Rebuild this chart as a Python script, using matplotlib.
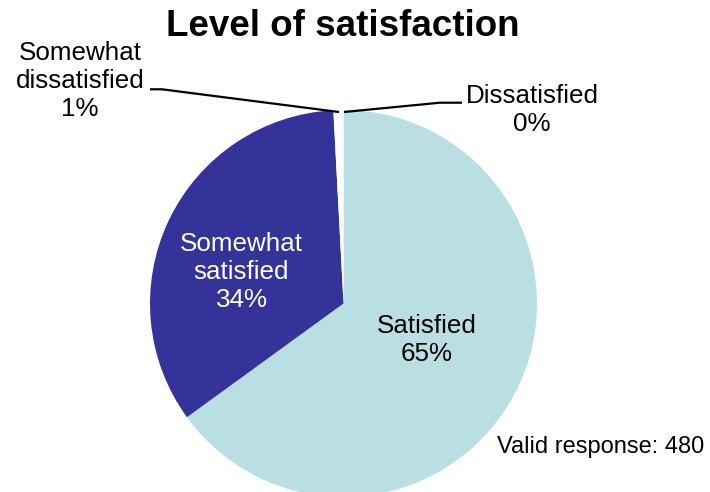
import matplotlib
matplotlib.use("Agg")
import matplotlib.pyplot as plt

categories = ["Satisfied", "Somewhat satisfied", "Somewhat dissatisfied", "Dissatisfied"]
counts = [312, 164, 3, 1]
pct_labels = ["65%", "34%", "1%", "0%"]
colors = ["#BADFE3", "#333399", "#FFFFFF", "#FFFFFF"]
title = "Level of satisfaction"
note = "Valid response: 480"

plt.rcParams['font.family'] = ['Liberation Sans', 'DejaVu Sans']

W, H = 710, 492
fig = plt.figure(figsize=(W / 100, H / 100), dpi=100)
ax = fig.add_axes([0, 0, 1, 1])

def Y(y):
    return H - y

ax.pie(counts, colors=colors, startangle=90, counterclock=False,
       center=(343.5, Y(303.5)), radius=193.5,
       wedgeprops=dict(linewidth=0))
ax.set_xlim(0, W)
ax.set_ylim(0, H)
ax.set_aspect('equal')
ax.axis('off')

fs = 18.7
ls = 1.22
ax.text(343, Y(26), title, ha='center', va='center', fontsize=26.5,
        fontweight='bold', color='black')

ax.text(427, Y(340), f"Satisfied\n{pct_labels[0]}", ha='center', va='center',
        fontsize=fs, color='black', linespacing=ls)
ax.text(241.5, Y(272), f"Somewhat\nsatisfied\n{pct_labels[1]}", ha='center', va='center',
        fontsize=fs, color='white', linespacing=ls)
ax.text(80, Y(81), f"Somewhat\ndissatisfied\n{pct_labels[2]}", ha='center', va='center',
        fontsize=fs, color='black', linespacing=ls)
ax.text(532, Y(110), f"Dissatisfied\n{pct_labels[3]}", ha='center', va='center',
        fontsize=fs, color='black', linespacing=ls)

# leader lines
ax.plot([150, 162, 339], [Y(89.3), Y(89.3), Y(112)], color='black', lw=1.6,
        solid_capstyle='butt')
ax.plot([344, 440, 462], [Y(112), Y(102.7), Y(102.7)], color='black', lw=1.6,
        solid_capstyle='butt')

ax.text(497, Y(447), note, ha='left', va='center', fontsize=17, color='black')

fig.savefig("out.png", dpi=100)
